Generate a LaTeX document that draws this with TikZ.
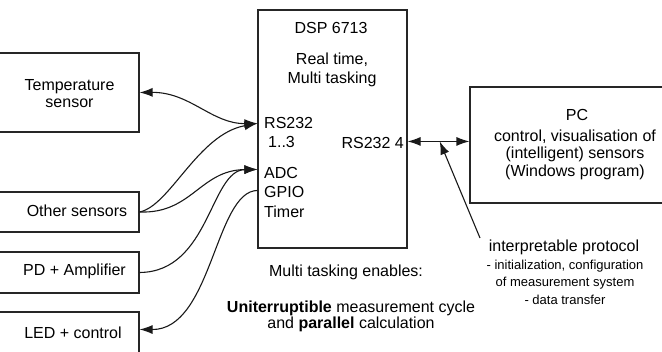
\documentclass[tikz,border=0pt]{standalone}
\usepackage{fontspec}
\setmainfont{Liberation Sans}
\usetikzlibrary{arrows.meta,calc}
\begin{document}
\begin{tikzpicture}[x=1pt,y=-1pt,
  box/.style={draw=black!85, line width=1.1pt, rectangle, inner sep=0pt},
  wire/.style={draw=black!90, line width=1.1pt},
  tip/.style={-{Latex[length=13pt,width=9pt]}},
  both/.style={{Latex[length=13pt,width=9pt]}-{Latex[length=13pt,width=9pt]}},
  lbl/.style={inner sep=0pt, align=center, font=\fontsize{16}{17}\selectfont},
  small/.style={inner sep=0pt, align=center, font=\fontsize{13}{17.5}\selectfont}
]
\useasboundingbox (0,0) rectangle (662,352);
\clip (0,0) rectangle (662,352);

% boxes
\node[box, minimum width=149pt, minimum height=79pt] (temp) at (64.5,92.5) {};
\node[box, minimum width=149pt, minimum height=40pt] (other) at (64.5,212) {};
\node[box, minimum width=149pt, minimum height=41pt] (pd) at (64.5,272.5) {};
\node[box, minimum width=149pt, minimum height=60pt] (led) at (64.5,342) {};
\node[box, minimum width=149pt, minimum height=238pt] (dsp) at (332.5,129) {};
\node[box, minimum width=220pt, minimum height=116pt] (pc) at (580,145) {};

% box texts
\node[lbl] (ttemp) at (69.5,93.5) {Temperature\\sensor};
\node[lbl] (tother) at (77,211) {Other sensors};
\node[lbl] (tpd) at (74.5,271) {PD + Amplifier};
\node[lbl] (tled) at (73,333) {LED + control};

\node[lbl] (tdsp) at (331,28) {DSP 6713};
\node[lbl, font=\fontsize{16}{19}\selectfont] (treal) at (332,69.5) {Real time,\\Multi tasking};
\node[lbl, anchor=west] (trs) at (264,123) {RS232};
\node[lbl, anchor=west] (trs13) at (268,142) {1..3};
\node[lbl, anchor=west] (tadc) at (264,172.5) {ADC};
\node[lbl, anchor=west] (tgpio) at (264,191.5) {GPIO};
\node[lbl, anchor=west] (ttimer) at (264,212) {Timer};
\node[lbl, anchor=east] (trs4) at (404,143) {RS232 4};

\node[lbl] (tpc) at (577,115) {PC};
\node[lbl, font=\fontsize{16}{17.5}\selectfont] (tpcd) at (575,154.5) {control, visualisation of\\(intelligent) sensors\\(Windows program)};

\node[lbl] (tmulti) at (346,272) {Multi tasking enables:};
\node[lbl, font=\fontsize{16}{16}\selectfont] (tunint) at (351,316) {\textbf{Uniterruptible} measurement cycle\\and \textbf{parallel} calculation};

\node[lbl] (tproto) at (564,247) {interpretable protocol};
\node[small] (tprotod) at (565,282) {- initialization, configuration\\of measurement system\\- data transfer};

% ports
\coordinate (rsin) at ($(dsp.north west)+(0,114)$);
\coordinate (adcin) at ($(dsp.north west)+(0,160)$);
\coordinate (gpio) at ($(dsp.north west)+(0,181)$);
\coordinate (rsout) at ($(dsp.north east)+(0,132)$);
\coordinate (pcin) at ($(pc.north west)+(0,55)$);
\coordinate (ledin) at ($(led.north east)+(0,18)$);
\coordinate (ann) at ($(rsout)!0.52!(pcin)$);
\coordinate (annstart) at (480,238);

% connectors
\draw[wire, both] (temp.east) .. controls (190,92) and (212,124) .. (rsin);
\draw[wire, tip] (other.east) .. controls (170,206) and (198,134) .. (rsin);
\draw[wire, tip] (other.east) .. controls (192,214) and (200,170) .. (adcin);
\draw[wire, tip] (pd.east) .. controls (210,272) and (210,170) .. (adcin);
\draw[wire, tip] (gpio) .. controls (215,191) and (212,330) .. (ledin);
\draw[wire, both] (rsout) -- (pcin);
\draw[wire, tip] (annstart) -- (ann);
\end{tikzpicture}
\end{document}
